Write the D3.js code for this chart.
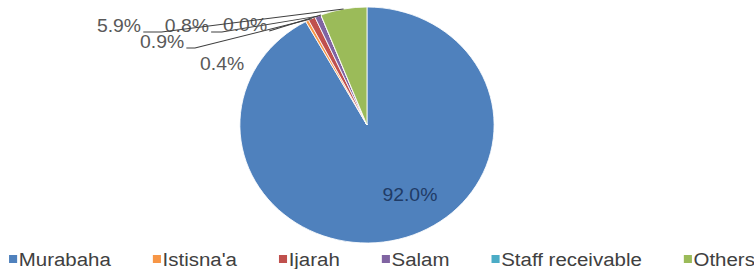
<!DOCTYPE html>
<html>
<head>
<meta charset="utf-8">
<script src="https://cdn.jsdelivr.net/npm/d3@7"></script>
<style>
  html, body { margin: 0; padding: 0; background: #fff; }
  svg { display: block; font-family: "Liberation Sans", Arial, sans-serif; }
</style>
</head>
<body>
<svg id="chart"></svg>
<script>
'use strict'

// chart data
const categories = ['Murabaha', "Istisna'a", 'Ijarah', 'Salam', 'Staff receivable', 'Others']
const shares = [92.0, 0.4, 0.9, 0.8, 0.0, 5.9]
const colors = ['#4f81bd', '#f79646', '#c0504d', '#8064a2', '#4bacc6', '#9bbb59']

// the reference is slightly stretched horizontally, so draw in a narrower box and stretch it
const W = 754, H = 269, VW = 700
const svg = d3.select('#chart')
  .attr('width', W).attr('height', H)
  .attr('viewBox', `0 0 ${VW} ${H}`)
  .attr('preserveAspectRatio', 'none')

const cx = 340.7, cy = 125, r = 118

const pie = d3.pie().sort(null).value(d => d)
const arcs = pie(shares)
const arc = d3.arc().innerRadius(0).outerRadius(r)
const edge = d3.arc().innerRadius(r).outerRadius(r)

const g = svg.append('g').attr('transform', `translate(${cx},${cy})`)

g.selectAll('path.slice')
  .data(arcs)
  .enter().append('path')
    .attr('class', 'slice')
    .attr('d', arc)
    .attr('fill', (d, i) => colors[i])
    .attr('stroke', '#fff')
    .attr('stroke-width', 0.8)

const fmt = d3.format('.1f')

// big slice label inside
const big = arcs[0]
const bigAngle = (big.startAngle + big.endAngle) / 2 - 0.27
g.append('text')
  .attr('x', 80 * Math.sin(bigAngle))
  .attr('y', -80 * Math.cos(bigAngle))
  .attr('dy', '0.35em')
  .attr('text-anchor', 'middle')
  .attr('font-size', 18)
  .attr('fill', '#1f3b66')
  .text(fmt(shares[0]) + '%')

// small slices: labels pushed out to the upper left (absolute coords in view box)
const outside = [
  {i: 1, x: 185.7, y: 70, line: false},
  {i: 2, x: 130, y: 48, line: true, hook: 8},
  {i: 3, x: 153, y: 32, line: true, hook: 10},
  {i: 4, x: 207, y: 31, line: true, hook: 0},
  {i: 5, x: 90, y: 32, line: true, hook: 17}
]

const labelLayer = svg.append('g')
outside.forEach(o => {
  const t = labelLayer.append('text')
    .attr('x', o.x).attr('y', o.y)
    .attr('font-size', 18)
    .attr('fill', '#595959')
    .text(fmt(shares[o.i]) + '%')
  if (!o.line) return
  const bb = t.node().getBBox()
  const [ex, ey] = edge.centroid(arcs[o.i])
  const x0 = bb.x + bb.width + 2, y0 = o.y
  const pts = [[x0, y0], [x0 + o.hook, y0], [cx + ex, cy + ey]]
  labelLayer.append('path')
    .attr('d', d3.line()(pts))
    .attr('fill', 'none')
    .attr('stroke', '#3f3f3f')
    .attr('stroke-width', 1)
})

// legend
const legend = svg.append('g').attr('transform', 'translate(8.4,259)')
let lx = 0
categories.forEach((c, i) => {
  const item = legend.append('g').attr('transform', `translate(${lx},0)`)
  item.append('rect')
    .attr('x', 0).attr('y', -4)
    .attr('width', 7.5).attr('height', 8)
    .attr('fill', colors[i])
  const t = item.append('text')
    .attr('x', 9).attr('dy', '0.35em')
    .attr('font-size', 19)
    .attr('fill', '#404040')
    .text(c)
  lx += 9 + t.node().getComputedTextLength() + 39
})
</script>
</body>
</html>
